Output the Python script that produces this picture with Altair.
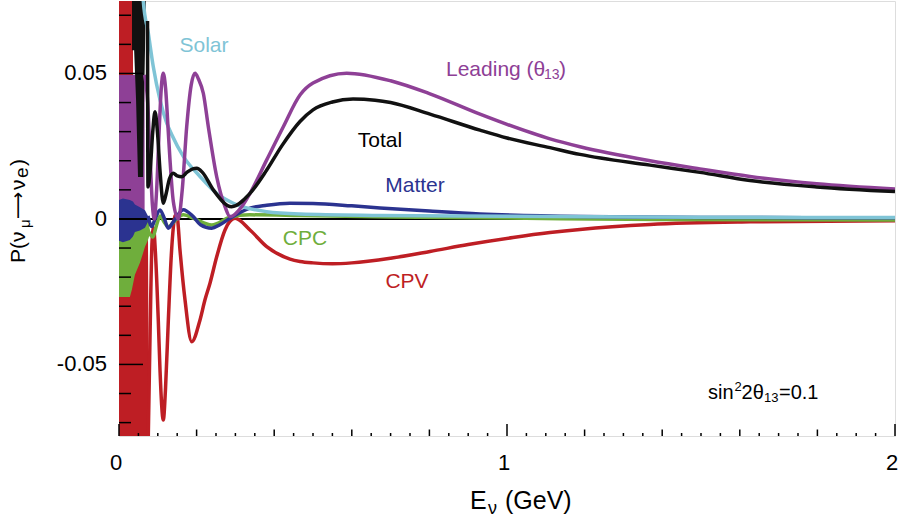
import altair as alt
import pandas as pd

# ---------------------------------------------------------------------------
# Oscillation probability components vs neutrino energy (GeV)
# ---------------------------------------------------------------------------

# Leading (theta13) term
leading_E = [0.066, 0.074, 0.080, 0.086, 0.091, 0.097, 0.104, 0.109, 0.114, 0.120,
             0.127, 0.1314, 0.140, 0.153, 0.163, 0.1745, 0.186, 0.196, 0.205, 0.2173,
             0.2302, 0.2518, 0.2732, 0.2861, 0.3162, 0.3376, 0.3807, 0.4235, 0.4665, 0.500,
             0.5869, 0.700, 0.8015, 0.9304, 1.000, 1.1108, 1.1881, 1.3686, 1.4974, 1.6263,
             1.7982, 2.0]
leading_P = [0.0495, 0.040, 0.022, 0.005, 0.0, 0.010, 0.032, 0.045, 0.0501, 0.045,
             0.030, 0.0204, 0.006, 0.0, 0.010, 0.0317, 0.046, 0.0501, 0.048, 0.0432,
             0.0317, 0.0145, 0.0042, 0.0008, 0.0042, 0.0088, 0.0203, 0.0317, 0.0426, 0.0467,
             0.0501, 0.0475, 0.0430, 0.0360, 0.0325, 0.0275, 0.0248, 0.0200, 0.0172, 0.0146,
             0.0121, 0.0103]

# Total probability
total_E = [0.0735, 0.0747, 0.080, 0.087, 0.0928, 0.099, 0.106, 0.1142, 0.122, 0.130,
           0.1399, 0.150, 0.1616, 0.175, 0.190, 0.2003, 0.215, 0.243, 0.2905, 0.3376,
           0.3807, 0.420, 0.4665, 0.500, 0.550, 0.6031, 0.660, 0.700, 0.8015, 0.9304,
           1.000, 1.1108, 1.1881, 1.3686, 1.4974, 1.6263, 1.7982, 2.0]
total_P = [0.068, 0.011, 0.016, 0.030, 0.0368, 0.030, 0.016, 0.0054, 0.009, 0.0138,
           0.0157, 0.0148, 0.0145, 0.016, 0.0172, 0.0174, 0.0160, 0.0100, 0.0042, 0.0088,
           0.0168, 0.0252, 0.0335, 0.0375, 0.0402, 0.0412, 0.0408, 0.0400, 0.0360, 0.0305,
           0.0278, 0.0245, 0.0222, 0.0185, 0.0160, 0.0132, 0.0110, 0.0094]

# Solar term
solar_E = [0.060, 0.0626, 0.0756, 0.0884, 0.1057, 0.1229, 0.1358, 0.1657, 0.2088, 0.2518,
           0.2946, 0.3807, 0.4665, 0.6727, 1.0, 1.5, 2.0]
solar_P = [0.085, 0.0749, 0.0638, 0.0523, 0.0409, 0.0330, 0.0290, 0.0215, 0.0146, 0.0088,
           0.0054, 0.0025, 0.0017, 0.0012, 0.0009, 0.0006, 0.0005]

# Matter term
matter_E = [0.0747, 0.0843, 0.093, 0.1057, 0.116, 0.1271, 0.140, 0.1657, 0.190, 0.210,
            0.2389, 0.260, 0.2861, 0.3376, 0.3807, 0.4407, 0.500, 0.600, 0.6727, 0.800,
            0.930, 1.190, 1.500, 2.0]
matter_P = [0.001, -0.0026, 0.000, 0.0031, 0.0005, -0.0032, -0.001, 0.0032, 0.001, -0.002,
            -0.0032, -0.002, 0.0002, 0.0037, 0.0047, 0.0054, 0.0053, 0.0045, 0.0038, 0.0027,
            0.0017, 0.0008, 0.0005, 0.0004]

# CP-conserving term
cpc_E = [0.0747, 0.0876, 0.095, 0.106, 0.116, 0.1271, 0.145, 0.1657, 0.195, 0.2389,
         0.2861, 0.3376, 0.4665, 0.700, 1.0, 1.4, 2.0]
cpc_P = [-0.004, -0.0062, -0.003, 0.001, -0.001, -0.0027, -0.0005, 0.0014, 0.000, -0.0021,
         0.0006, 0.0014, 0.0012, 0.0007, 0.0003, -0.0002, -0.0004]

# CP-violating term
cpv_E = [0.0735, 0.080, 0.0851, 0.089, 0.094, 0.1013, 0.1057, 0.1142, 0.120, 0.1271,
         0.135, 0.1443, 0.1469, 0.150, 0.1572, 0.1701, 0.1874, 0.2088, 0.2216, 0.2345,
         0.2518, 0.2732, 0.2990, 0.3376, 0.3807, 0.4407, 0.4665, 0.500, 0.550, 0.600,
         0.700, 0.8015, 0.900, 1.0155, 1.1108, 1.1881, 1.3686, 1.6263, 2.0]
cpv_P = [-0.090, -0.040, -0.008, -0.003, -0.012, -0.035, -0.052, -0.0691, -0.058, -0.035,
         -0.012, 0.0010, 0.0015, 0.0008, -0.0107, -0.0278, -0.0422, -0.0347, -0.0278, -0.0221,
         -0.0130, -0.0038, 0.0002, -0.0038, -0.0095, -0.0138, -0.0146, -0.0151, -0.0154, -0.0151,
         -0.0135, -0.0112, -0.0088, -0.0064, -0.0047, -0.0036, -0.0019, -0.0010, -0.0006]

# Envelopes of the fast oscillations at the lowest energies (lower / upper bound)
cpv_band_E = [0.0, 0.036, 0.0365, 0.055, 0.068, 0.0747, 0.077]
cpv_band_lo = [-0.0746, -0.0746, -0.0746, -0.0746, -0.0746, -0.0746, -0.0746]
cpv_band_hi = [0.0749, 0.0749, -0.012, -0.010, -0.008, -0.006, -0.0746]

cpc_band_E = [0.0, 0.028, 0.033, 0.041, 0.054, 0.067, 0.0747, 0.080]
cpc_band_lo = [-0.0268, -0.0268, -0.0244, -0.0192, -0.0151, -0.0096, -0.0072, -0.005]
cpc_band_hi = [0.002, 0.002, 0.002, 0.002, 0.001, 0.0, 0.0, -0.004]

leading_band_E = [0.0, 0.062, 0.066]
leading_band_lo = [0.0, 0.0, 0.0]
leading_band_hi = [0.0495, 0.0495, 0.0495]

matter_band_E = [0.0, 0.010, 0.028, 0.036, 0.041, 0.054, 0.067, 0.0747]
matter_band_lo = [-0.0075, -0.0080, -0.0072, -0.0060, -0.0045, -0.0040, -0.0030, -0.001]
matter_band_hi = [0.0065, 0.0070, 0.0065, 0.0060, 0.0050, 0.0040, 0.0030, 0.001]

total_band_E = [0.0335, 0.039, 0.044, 0.049, 0.062, 0.0645, 0.067, 0.069]
total_band_lo = [0.058, 0.058, 0.0408, 0.0144, 0.0144, 0.040, 0.058, 0.0749]
total_band_hi = [0.0749, 0.0749, 0.0749, 0.0749, 0.0749, 0.0749, 0.0749, 0.0749]

# Axis ticks and tick labels
x_labels = [0, 1, 2]
x_label_text = ["0", "1", "2"]
x_mid_ticks = [0.2, 0.4, 0.6, 0.8, 1.2, 1.4, 1.6, 1.8]
x_minor_ticks = [0.05, 0.1, 0.15, 0.25, 0.3, 0.35, 0.45, 0.5, 0.55, 0.65, 0.7, 0.75,
                 0.85, 0.9, 0.95, 1.05, 1.1, 1.15, 1.25, 1.3, 1.35, 1.45, 1.5, 1.55,
                 1.65, 1.7, 1.75, 1.85, 1.9, 1.95]
y_labels = [-0.05, 0, 0.05]
y_label_text = ["-0.05", "0", "0.05"]
y_minor_ticks = [-0.07, -0.06, -0.04, -0.03, -0.02, -0.01, 0.01, 0.02, 0.03, 0.04, 0.06, 0.07]

# ---------------------------------------------------------------------------
FONT = "Liberation Sans"
W, H = 776, 435
C_LEAD = "#8e4096"
C_TOTAL = "#111111"
C_SOLAR = "#7fc4d6"
C_MATTER = "#2b3390"
C_CPC = "#6fae3c"
C_CPV = "#be1e24"

xs = alt.Scale(domain=[0, 2], nice=False, zero=False)
ys = alt.Scale(domain=[-0.0746, 0.0749], nice=False, zero=False)


def X(field):
    return alt.X(field, scale=xs, axis=None)


def Y(field):
    return alt.Y(field, scale=ys, axis=None)


def curve(E, P, color):
    df = pd.DataFrame({"E": E, "P": P})
    return alt.Chart(df).mark_line(
        color=color, strokeWidth=3.5, interpolate="monotone", clip=True
    ).encode(x=X("E:Q"), y=Y("P:Q"))


def band(E, lo, hi, color):
    df = pd.DataFrame({"E": E, "lo": lo, "hi": hi})
    return alt.Chart(df).mark_area(color=color, opacity=1, clip=True).encode(
        x=X("E:Q"), y=Y("lo:Q"), y2="hi:Q")


def label(text, E, P, color, size=21, align="center"):
    df = pd.DataFrame({"E": [E], "P": [P], "t": [text]})
    return alt.Chart(df).mark_text(
        font=FONT, fontSize=size, color=color, align=align, baseline="alphabetic"
    ).encode(x=X("E:Q"), y=Y("P:Q"), text="t:N")


def frame_text(text, px, py, size, angle=0, font=FONT):
    df = pd.DataFrame({"t": [text]})
    return alt.Chart(df).mark_text(
        font=font, fontSize=size, color="black", align="left",
        baseline="alphabetic", angle=angle
    ).encode(x=alt.value(px), y=alt.value(py), text="t:N")


def xticks(vals, length):
    return alt.Chart(pd.DataFrame({"E": vals})).mark_rule(color="black", strokeWidth=1.5).encode(
        x=X("E:Q"), y=alt.value(H), y2=alt.value(H - length))


def yticks(vals, length):
    return alt.Chart(pd.DataFrame({"P": vals})).mark_rule(color="black", strokeWidth=1.5).encode(
        y=Y("P:Q"), x=alt.value(0), x2=alt.value(length))


x_tick_labels = alt.Chart(pd.DataFrame({"E": x_labels, "t": x_label_text})).mark_text(
    font=FONT, fontSize=22, color="black", align="center", baseline="alphabetic", dx=-3
).encode(x=X("E:Q"), y=alt.value(469), text="t:N")

y_tick_labels = alt.Chart(pd.DataFrame({"P": y_labels, "t": y_label_text})).mark_text(
    font=FONT, fontSize=22, color="black", align="right", baseline="middle"
).encode(y=Y("P:Q"), x=alt.value(-12), text="t:N")

zero_line = alt.Chart(pd.DataFrame({"P": [0]})).mark_rule(color="black", strokeWidth=2).encode(
    y=Y("P:Q"), x=alt.value(0), x2=alt.value(W))

layers = [
    band(cpv_band_E, cpv_band_lo, cpv_band_hi, C_CPV),
    band(cpc_band_E, cpc_band_lo, cpc_band_hi, C_CPC),
    band(leading_band_E, leading_band_lo, leading_band_hi, C_LEAD),
    band(matter_band_E, matter_band_lo, matter_band_hi, C_MATTER),
    band(total_band_E, total_band_lo, total_band_hi, C_TOTAL),
    zero_line,
    curve(cpv_E, cpv_P, C_CPV),
    curve(cpc_E, cpc_P, C_CPC),
    curve(matter_E, matter_P, C_MATTER),
    curve(solar_E, solar_P, C_SOLAR),
    curve(leading_E, leading_P, C_LEAD),
    curve(total_E, total_P, C_TOTAL),
    xticks(x_labels, 12),
    xticks(x_mid_ticks, 6.5),
    xticks(x_minor_ticks, 3),
    yticks(y_labels, 24),
    yticks(y_minor_ticks, 12),
    x_tick_labels,
    y_tick_labels,
    # curve labels
    label("Solar", 0.219, 0.0574, C_SOLAR),
    label("Total", 0.6727, 0.0247, "black"),
    label("Matter", 0.7629, 0.0093, C_MATTER),
    label("CPC", 0.4794, -0.0089, C_CPC),
    label("CPV", 0.7423, -0.0237, C_CPV),
    label("Leading (θ", 0.8428, 0.0491, C_LEAD, align="left"),
    label("13", 1.0954, 0.0481, C_LEAD, size=14, align="left"),
    label(")", 1.134, 0.0491, C_LEAD, align="left"),
    # mixing-angle note
    label("sin", 1.5180, -0.0619, "black", size=20, align="left"),
    label("2", 1.5863, -0.0591, "black", size=13, align="left"),
    label("2θ", 1.6044, -0.0619, "black", size=20, align="left"),
    label("13", 1.6624, -0.0629, "black", size=13, align="left"),
    label("=0.1", 1.7010, -0.0619, "black", size=20, align="left"),
    # x-axis title
    frame_text("E", 351, 508, 25),
    frame_text("ν", 369, 513, 18),
    frame_text("(GeV)", 386, 508, 25),
    # y-axis title
    frame_text("P(ν", -94, 262, 21, angle=270),
    frame_text("μ", -89, 227, 15, angle=270),
    frame_text("⟶", -95, 218, 19, angle=270, font="DejaVu Sans"),
    frame_text("ν", -94, 189, 21, angle=270),
    frame_text("e", -91, 177, 19, angle=270),
    frame_text(")", -94, 165, 21, angle=270),
]

chart = alt.layer(*layers).properties(
    width=W, height=H,
    padding={"left": 119, "top": 1, "right": 4, "bottom": 88},
    autosize=alt.AutoSizeParams(type="none"),
).configure_view(stroke="black", strokeWidth=2.5).configure(background="white")

chart.save("out.html", embed_options={"renderer": "svg", "actions": False})
